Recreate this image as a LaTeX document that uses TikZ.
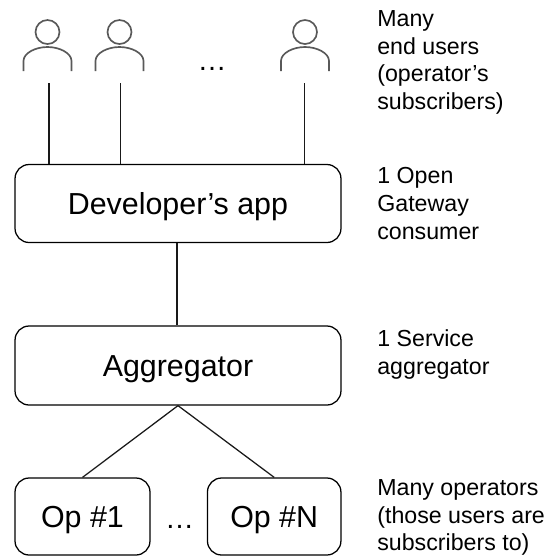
\documentclass[tikz,border=0pt]{standalone}
\usepackage{fontspec}
\setmainfont{Liberation Sans}
\tikzset{
	box/.style={draw, rounded corners=8pt, line width=0.72pt, inner sep=0pt, text height=12pt, text depth=0pt, font=\fontsize{17.3}{20}\selectfont},
	user/.style={draw=black!65, line width=0.95pt},
	link/.style={draw=black!90, line width=0.72pt},
	note/.style={anchor=north west, align=left, inner sep=0pt, font=\fontsize{13.2}{15.7}\selectfont},
	dots/.style={anchor=base, font=\fontsize{16.5}{18}\selectfont, inner sep=0pt}
}
\begin{document}
\begin{tikzpicture}[x=0.02cm, y=-0.02cm]
	\useasboundingbox (0, 0) rectangle (553, 556);
	% boxes
	\node[box, minimum width=6.52cm, minimum height=1.56cm] (dev) at (178, 203.5) {Developer’s app};
	\node[box, minimum width=6.52cm, minimum height=1.58cm, text height=13pt] (aggr) at (178, 365.5) {Aggregator};
	\node[box, minimum width=2.70cm, minimum height=1.54cm] (op1) at (82.5, 516.5) {Op \#1};
	\node[box, minimum width=2.67cm, minimum height=1.54cm] (opn) at (274.2, 516.5) {Op \#N};
	% users
	\foreach \name/\x/\xl in {one/47.5/49, two/119.5/120.7, last/305/304.7} {
		\draw[user] (\x, 32) circle (12);
		\draw[user] (\x-24, 71) -- (\x-24, 61) .. controls (\x-24, 53) and (\x-12, 47) .. (\x, 47) .. controls (\x+12, 47) and (\x+24, 53) .. (\x+24, 61) -- (\x+24, 71);
		\coordinate (\name) at (\xl, 83);
	}
	% connectors
	\draw[link] (one) -- (one |- dev.north);
	\draw[link] (two) -- (two |- dev.north);
	\draw[link] (last) -- (last |- dev.north);
	\draw[link] (dev.south -| 177, 0) -- (aggr.north -| 177, 0);
	\draw[link] (aggr.south) -- (op1.north);
	\draw[link] (aggr.south) -- (opn.north);
	% dots
	\node[dots] (dots1) at (212, 70) {…};
	\node[dots] (dots2) at (179.5, 528) {…};
	% notes
	\node[note] (notea) at (377, 10.3) {Many\\end users\\(operator’s\\subscribers)};
	\node[note] (noteb) at (377, 167.3) {1 Open\\Gateway\\consumer};
	\node[note] (notec) at (377, 329.3) {1 Service\\aggregator};
	\node[note] (noted) at (377, 479.3) {Many operators\\(those users are\\subscribers to)};
\end{tikzpicture}
\end{document}
